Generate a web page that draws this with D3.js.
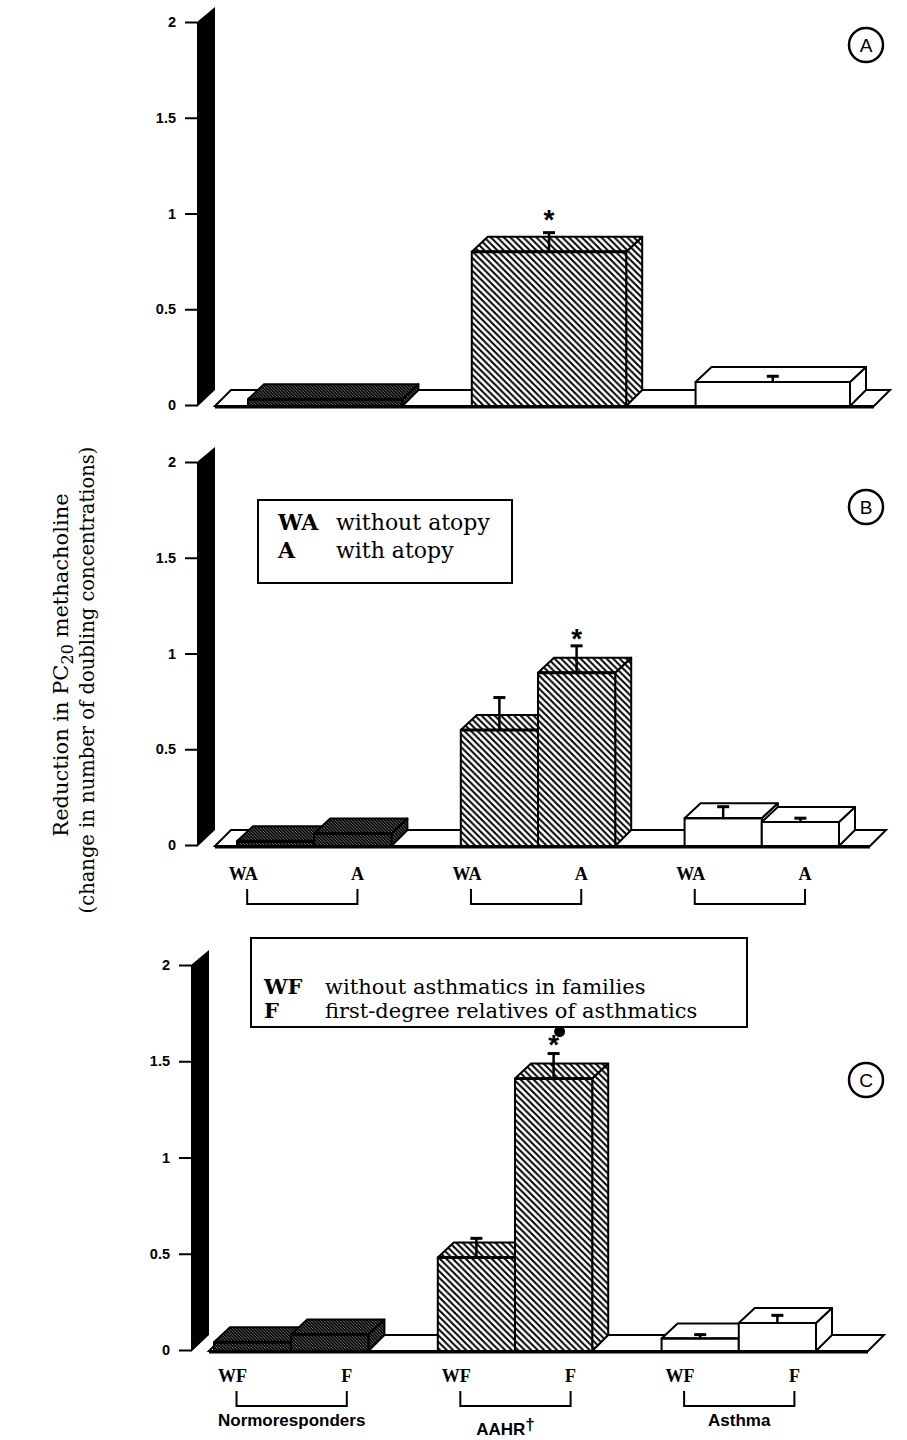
<!DOCTYPE html>
<html>
<head>
<meta charset="utf-8">
<script src="https://cdn.jsdelivr.net/npm/d3@7"></script>
<style>
body { margin: 0; background: #fff; }
.tick text { font: bold 14.5px "Liberation Sans", Arial, sans-serif; fill: #000; }
.tick line { stroke: #000; stroke-width: 2; }
.serif { font-family: "Liberation Serif", "Times New Roman", serif; fill: #000; }
.wide { font-family: "DejaVu Serif", "Liberation Serif", serif; fill: #000; }
.sans { font-family: "Liberation Sans", Arial, sans-serif; fill: #000; }
</style>
</head>
<body>
<div id="chart"></div>
<script>
const groups = ['Normoresponders', 'AAHR', 'Asthma']
const groupNames = ['Normoresponders', 'AAHR', 'Asthma']
const tickValues = [0, 0.5, 1, 1.5, 2]
const tickLabels = ['0', '0.5', '1', '1.5', '2']

// panel A : whole groups
const aValues = [0.03, 0.80, 0.12]
const aErrors = [0, 0.10, 0.03]

// panel B : without atopy / with atopy
const bSubgroups = ['WA', 'A']
const bWA = [0.02, 0.60, 0.14]
const bWAerr = [0, 0.17, 0.06]
const bA = [0.06, 0.90, 0.12]
const bAerr = [0, 0.14, 0.02]

// panel C : without asthmatics in family / first-degree relatives
const cSubgroups = ['WF', 'F']
const cWF = [0.04, 0.48, 0.06]
const cWFerr = [0, 0.10, 0.02]
const cF = [0.08, 1.41, 0.14]
const cFerr = [0, 0.13, 0.04]

const bLegend = [['WA', 'without atopy'], ['A', 'with atopy']]
const cLegend = [['WF', 'without asthmatics in families'], ['F', 'first-degree relatives of asthmatics']]

const width = 907, height = 1440
const DX = 16, DY = -15

let svg = d3.select('#chart').append('svg')
.attr('width', width)
.attr('height', height)

svg.append('rect').attr('width', width).attr('height', height).attr('fill', '#fff')

let defs = svg.append('defs')

function makeHatch(id, step, sw) {
  let pat = defs.append('pattern')
  .attr('id', id)
  .attr('patternUnits', 'userSpaceOnUse')
  .attr('width', step)
  .attr('height', step)
  pat.append('rect').attr('width', step).attr('height', step).attr('fill', '#fff')
  pat.append('path')
  .attr('d', `M-1,-1L${step + 1},${step + 1}M-1,${step - 1}L1,${step + 1}M${step - 1},-1L${step + 1},1`)
  .attr('stroke', '#000')
  .attr('stroke-width', sw)
}
makeHatch('hatch', 6.5, 2)
makeHatch('dense', 3.2, 1.9)

const panels = [
  { label: 'A', y0: 405, y2: 22, ax: 197, x0: 248, floorR: 874, circleY: 45,
    series: [{ values: aValues, errors: aErrors }], star: { g: 1, s: 0, off: 10 } },
  { label: 'B', y0: 845, y2: 462, ax: 197, x0: 237, floorR: 870, circleY: 507,
    series: [{ values: bWA, errors: bWAerr }, { values: bA, errors: bAerr }],
    subLabels: bSubgroups, labelPos: [0.04, 0.78], labelY: 880, star: { g: 1, s: 1, off: 4 } },
  { label: 'C', y0: 1350, y2: 965, ax: 191, x0: 214, floorR: 868, circleY: 1080,
    series: [{ values: cWF, errors: cWFerr }, { values: cF, errors: cFerr }],
    subLabels: cSubgroups, labelPos: [0.12, 0.86], labelY: 1382, star: { g: 1, s: 1, off: 6, dot: true },
    names: groupNames }
]

panels.forEach(p => drawPanel(p))

function poly(pts) {
  return 'M' + pts.map(d => d.join(',')).join('L') + 'Z'
}

function drawPanel(p) {
  let g = svg.append('g')

  let y = d3.scaleLinear().domain([0, 2]).range([p.y0, p.y2])
  let x = d3.scaleBand().domain(groups).range([p.x0, p.x0 + 602]).paddingInner(0.31)
  let sub = d3.scaleBand().domain(d3.range(p.series.length)).range([0, x.bandwidth()])

  // axis wall
  g.append('path')
  .attr('d', poly([[p.ax, y(2)], [p.ax + DX + 2, y(2) + DY], [p.ax + DX + 2, y(0) + DY], [p.ax, y(0) + 2]]))
  .attr('fill', '#000')

  let axis = d3.axisLeft(y)
  .tickValues(tickValues)
  .tickFormat((d, i) => tickLabels[i])
  .tickSize(12)
  .tickPadding(9)

  g.append('g')
  .attr('transform', `translate(${p.ax},0)`)
  .call(axis)
  .call(s => s.select('.domain').remove())

  // floor
  g.append('path')
  .attr('d', poly([[p.ax + DX + 2, y(0) + 1], [p.floorR, y(0) + 1], [p.floorR + DX, y(0) + DY], [p.ax + 2 * DX + 2, y(0) + DY]]))
  .attr('fill', '#fff')
  .attr('stroke', '#000')
  .attr('stroke-width', 2)
  g.append('line')
  .attr('x1', p.ax + DX + 2).attr('x2', p.floorR)
  .attr('y1', y(0) + 2).attr('y2', y(0) + 2)
  .attr('stroke', '#000').attr('stroke-width', 3)

  // bars
  let bars = []
  groups.forEach((grp, j) => {
    p.series.forEach((s, i) => {
      bars.push({ g: j, s: i, v: s.values[j], e: s.errors[j], bx: x(grp) + sub(i), bw: sub.bandwidth() })
    })
  })

  let barG = g.append('g')
  .selectAll('g')
  .data(bars)
  .enter()
  .append('g')
  .attr('stroke', '#000')
  .attr('stroke-width', 2)
  .attr('stroke-linejoin', 'round')
  .attr('fill', d => d.g === 2 ? '#fff' : d.g === 0 ? 'url(#dense)' : 'url(#hatch)')

  barG.append('path')
  .attr('d', d => poly([[d.bx + d.bw, y(d.v)], [d.bx + d.bw + DX, y(d.v) + DY], [d.bx + d.bw + DX, y(0) + DY], [d.bx + d.bw, y(0) + 1]]))
  barG.append('path')
  .attr('d', d => poly([[d.bx, y(d.v)], [d.bx + DX, y(d.v) + DY], [d.bx + d.bw + DX, y(d.v) + DY], [d.bx + d.bw, y(d.v)]]))
  barG.append('rect')
  .attr('x', d => d.bx)
  .attr('y', d => y(d.v))
  .attr('width', d => d.bw)
  .attr('height', d => y(0) + 1 - y(d.v))
  barG.append('line')
  .attr('x1', d => d.bx).attr('x2', d => d.bx + d.bw)
  .attr('y1', d => y(d.v)).attr('y2', d => y(d.v))
  .attr('stroke-width', d => d.g === 2 ? 2 : 3)

  // error bars
  let errs = g.append('g')
  .selectAll('g')
  .data(bars.filter(d => d.e > 0))
  .enter()
  .append('g')
  .attr('stroke', '#000')
  .attr('stroke-width', 2.5)
  errs.append('line')
  .attr('x1', d => d.bx + d.bw / 2).attr('x2', d => d.bx + d.bw / 2)
  .attr('y1', d => y(d.v)).attr('y2', d => y(d.v + d.e))
  errs.append('line')
  .attr('x1', d => d.bx + d.bw / 2 - 6).attr('x2', d => d.bx + d.bw / 2 + 6)
  .attr('y1', d => y(d.v + d.e)).attr('y2', d => y(d.v + d.e))
  .attr('stroke-width', 3)

  // significance star
  let sb = bars.find(d => d.g === p.star.g && d.s === p.star.s)
  g.append('text')
  .attr('class', 'sans')
  .attr('x', sb.bx + sb.bw / 2)
  .attr('y', y(sb.v + sb.e) + 6 - p.star.off)
  .attr('text-anchor', 'middle')
  .style('font-size', '28px')
  .style('font-weight', 'bold')
  .text('*')
  if (p.star.dot) {
    g.append('circle')
    .attr('cx', sb.bx + sb.bw / 2 + 6)
    .attr('cy', y(sb.v + sb.e) - 22)
    .attr('r', 5.5)
    .attr('fill', '#000')
  }

  // panel letter
  g.append('circle')
  .attr('cx', 866).attr('cy', p.circleY).attr('r', 17)
  .attr('fill', 'none').attr('stroke', '#000').attr('stroke-width', 2.5)
  g.append('text')
  .attr('class', 'sans')
  .attr('x', 866).attr('y', p.circleY + 7)
  .attr('text-anchor', 'middle')
  .style('font-size', '19px')
  .text(p.label)

  // subgroup labels and brackets
  if (p.subLabels) {
    groups.forEach((grp, j) => {
      let lx = p.labelPos.map(r => x(grp) + r * x.bandwidth())
      p.subLabels.forEach((t, i) => {
        g.append('text')
        .attr('class', 'serif')
        .attr('x', lx[i]).attr('y', p.labelY)
        .attr('text-anchor', 'middle')
        .style('font-size', '18px')
        .style('font-weight', 'bold')
        .text(t)
      })
      g.append('path')
      .attr('d', `M${lx[0] + 4},${p.labelY + 9}V${p.labelY + 24}H${lx[1]}V${p.labelY + 9}`)
      .attr('fill', 'none').attr('stroke', '#000').attr('stroke-width', 2)

      if (p.names) {
        let nt = g.append('text')
        .attr('class', 'sans')
        .attr('x', (lx[0] + lx[1]) / 2 + (j === 1 ? -8 : 2))
        .attr('y', p.labelY + (j === 1 ? 53 : 44))
        .attr('text-anchor', 'middle')
        .style('font-size', '17px')
        .style('font-weight', 'bold')
        .text(p.names[j])
        if (j === 1) nt.append('tspan').attr('dy', -5).text('†')
      }
    })
  }
}

// legends
function drawLegend(items, box, codeX, descX, firstY, lineH, size) {
  let lg = svg.append('g')
  lg.append('rect')
  .attr('x', box[0]).attr('y', box[1]).attr('width', box[2]).attr('height', box[3])
  .attr('fill', '#fff').attr('stroke', '#000').attr('stroke-width', 2)
  items.forEach((it, i) => {
    lg.append('text').attr('class', 'wide')
    .attr('x', codeX).attr('y', firstY + i * lineH)
    .style('font-size', size + 'px').style('font-weight', 'bold')
    .text(it[0])
    lg.append('text').attr('class', 'wide')
    .attr('x', descX).attr('y', firstY + i * lineH)
    .style('font-size', size + 'px')
    .text(it[1])
  })
}

drawLegend(bLegend, [258, 500, 254, 83], 278, 336, 530, 28, 22)
drawLegend(cLegend, [251, 938, 496, 89], 264, 325, 994, 24, 21)

// y axis title
let title = svg.append('g').attr('class', 'wide').style('font-size', '19.5px')
let t1 = title.append('text')
.attr('transform', 'translate(68,665) rotate(-90)')
.attr('text-anchor', 'middle')
.style('font-size', '21px')
t1.append('tspan').text('Reduction in PC')
t1.append('tspan').attr('dy', 5).style('font-size', '16px').text('20')
t1.append('tspan').attr('dy', -5).text(' methacholine')
title.append('text')
.attr('transform', 'translate(94,680) rotate(-90)')
.attr('text-anchor', 'middle')
.text('(change in number of doubling concentrations)')
</script>
</body>
</html>
